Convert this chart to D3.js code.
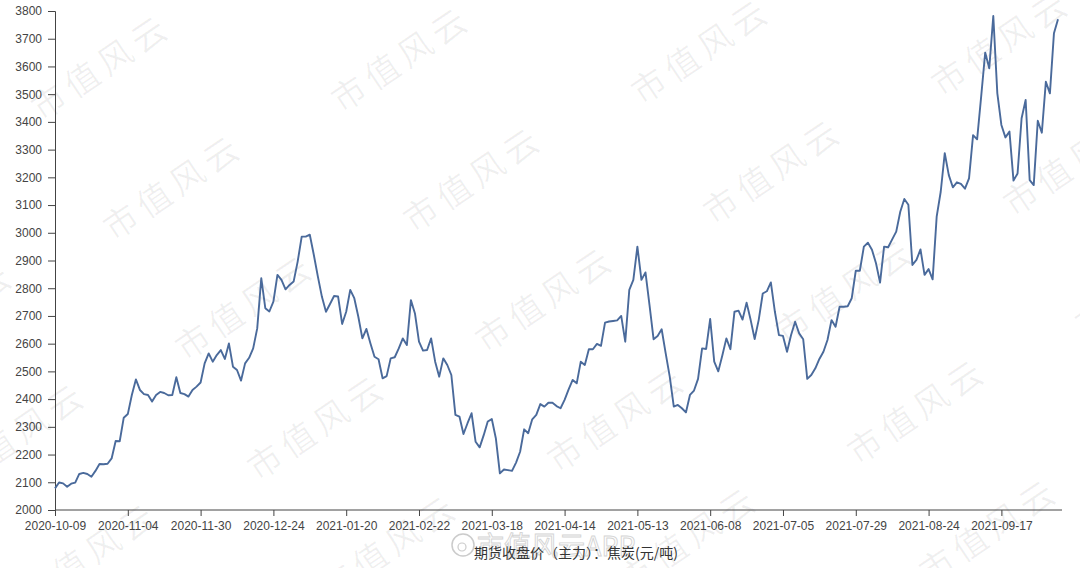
<!DOCTYPE html>
<html>
<head>
<meta charset="utf-8">
<script src="https://cdn.jsdelivr.net/npm/d3@7"></script>
<style>
  html, body { margin: 0; padding: 0; background: #fff; }
  svg { display: block; }
</style>
</head>
<body>
<svg id="chart" width="1080" height="568"></svg>
<script>
// ---- data ----
const tickLabels = ["2020-10-09","2020-11-04","2020-11-30","2020-12-24","2021-01-20","2021-02-22","2021-03-18",
  "2021-04-14","2021-05-13","2021-06-08","2021-07-05","2021-07-29","2021-08-24","2021-09-17"];
const labelStep = 18; // trading days between labelled ticks
const yTicks = [2000,2100,2200,2300,2400,2500,2600,2700,2800,2900,3000,3100,3200,3300,3400,3500,3600,3700,3800];
const seriesName = "期货收盘价（主力）：焦炭(元/吨)";
const closePrice = [
  2078,2099,2096,2084,2095,2099,2130,2134,2130,2120,2141,2166,2165,2167,2186,2249,2248,2333,2346,2415,
  2471,2433,2418,2415,2391,2415,2426,2422,2414,2415,2479,2422,2418,2409,2433,2445,2460,2529,2565,2535,
  2559,2577,2545,2601,2517,2505,2467,2529,2549,2583,2655,2836,2728,2716,2752,2848,2830,2796,2812,2824,
  2896,2986,2986,2993,2920,2842,2769,2715,2743,2772,2770,2671,2715,2794,2764,2697,2619,2653,2601,2553,
  2544,2475,2483,2547,2551,2583,2619,2595,2757,2709,2607,2575,2577,2619,2535,2481,2547,2523,2487,2343,
  2337,2274,2313,2349,2246,2226,2270,2319,2328,2259,2132,2146,2144,2141,2171,2210,2291,2277,2327,2343,
  2382,2373,2387,2387,2375,2367,2397,2435,2469,2457,2535,2523,2580,2580,2599,2592,2676,2680,2682,2684,
  2700,2607,2794,2830,2950,2830,2857,2739,2616,2628,2652,2565,2481,2373,2379,2367,2352,2415,2431,2473,
  2583,2581,2689,2535,2500,2557,2619,2580,2715,2719,2687,2748,2686,2617,2686,2781,2789,2821,2715,2631,
  2628,2571,2631,2679,2637,2616,2473,2487,2511,2545,2571,2613,2685,2661,2733,2733,2735,2764,2863,2863,
  2950,2964,2939,2890,2820,2950,2948,2976,3004,3076,3122,3101,2884,2902,2940,2848,2869,2832,3058,3148,
  3287,3208,3164,3182,3176,3159,3196,3352,3337,3491,3650,3593,3782,3503,3389,3344,3365,3188,3214,3413,
  3479,3190,3172,3404,3361,3545,3503,3720,3770
];

// ---- layout ----
const W = 1080, H = 568;
const m = { left: 55, right: 18, top: 11, bottom: 58 };
const svg = d3.select("#chart");

// watermarks (background)
const wmG = svg.append("g");
const wmPos = [];
for (let j = -1; j <= 4; j++) {
  for (let i = -1; i <= 4; i++) {
    const x = 100 + 300 * i + 72 * j, y = 65 - 8 * i + 120 * j;
    if (x > -120 && x < W + 120 && y > -60 && y < H + 60) wmPos.push([x, y]);
  }
}
wmG.selectAll("text").data(wmPos).join("text")
  .attr("transform", d => `translate(${d[0]},${d[1]}) rotate(-34)`)
  .attr("text-anchor", "middle").attr("dominant-baseline", "central")
  .attr("font-family", "'Noto Sans CJK SC', sans-serif")
  .attr("font-size", 34).attr("letter-spacing", 6)
  .attr("fill", "#000").attr("fill-opacity", 0.06)
  .text("市值风云");

const x = d3.scaleLinear().domain([0, closePrice.length - 1]).range([m.left, 1058]);
const y = d3.scaleLinear().domain([2000, 3800]).range([H - m.bottom, m.top]);

// y axis
const yAxisG = svg.append("g").attr("transform", `translate(${m.left},0)`);
yAxisG.call(d3.axisLeft(y).tickValues(d3.range(2000, 3801, 10)).tickSize(3).tickFormat(""))
  .call(g => g.select(".domain").remove());
yAxisG.call(d3.axisLeft(y).tickValues(yTicks).tickSize(7).tickPadding(6).tickFormat(d3.format("d")));
yAxisG.selectAll("line, path").attr("stroke", "#444");
yAxisG.selectAll("text").attr("font-family", "'Liberation Sans', Arial, sans-serif")
  .attr("font-size", 12).attr("fill", "#444");

// x axis
const xAxisG = svg.append("g").attr("transform", `translate(0,${H - m.bottom})`);
xAxisG.call(d3.axisBottom(x).tickValues(d3.range(0, closePrice.length, 2)).tickSize(3).tickFormat(""))
  .call(g => g.select(".domain").remove());
xAxisG.call(d3.axisBottom(x).tickValues(tickLabels.map((_, i) => i * labelStep))
  .tickSize(6).tickPadding(5).tickFormat((d, i) => tickLabels[i]));
xAxisG.select(".domain").attr("d", `M${m.left},0H${W - m.right}`);
xAxisG.selectAll("line, path").attr("stroke", "#444");
xAxisG.selectAll("text").attr("font-family", "'Liberation Sans', Arial, sans-serif")
  .attr("font-size", 12).attr("fill", "#444");

// line
svg.append("path").datum(closePrice)
  .attr("fill", "none").attr("stroke", "#4a6a9b").attr("stroke-width", 1.9)
  .attr("stroke-linejoin", "round")
  .attr("d", d3.line().x((d, i) => x(i)).y(d => y(d)));

// weibo watermark
const wb = svg.append("g").attr("opacity", 0.5);
wb.append("circle").attr("cx", 463).attr("cy", 545).attr("r", 11).attr("fill", "none").attr("stroke", "#999").attr("stroke-width", 1.5);
wb.append("circle").attr("cx", 462).attr("cy", 547).attr("r", 4).attr("fill", "none").attr("stroke", "#999").attr("stroke-width", 1.2);
wb.append("text").attr("x", 477).attr("y", 556)
  .attr("font-family", "'Noto Sans CJK SC', sans-serif").attr("font-size", 27)
  .attr("fill", "#fff").attr("stroke", "#aaa").attr("stroke-width", 0.9)
  .text("市值风云APP");

// series title
svg.append("text").attr("x", 474).attr("y", 558)
  .attr("font-family", "'Noto Sans CJK SC', sans-serif").attr("font-size", 14).attr("fill", "#333")
  .text(seriesName);
</script>
</body>
</html>
